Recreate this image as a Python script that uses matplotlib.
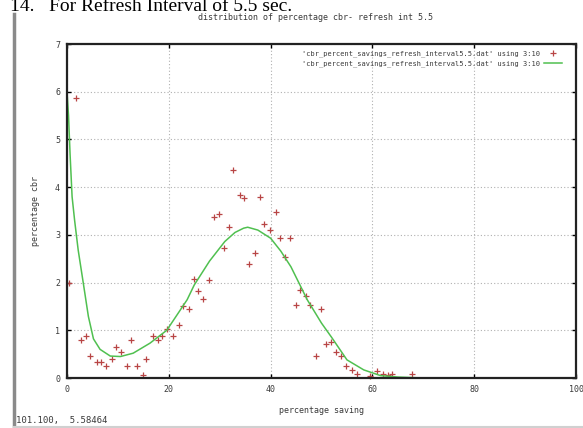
import matplotlib
matplotlib.use("Agg")
import matplotlib.pyplot as plt
from matplotlib.lines import Line2D

# ---- data ----
pts_x = [0.3, 1.7, 2.8, 3.7, 4.6, 5.8, 6.6, 7.7, 8.8, 9.6, 10.6, 11.7, 12.6, 13.7,
         14.9, 15.6, 16.8, 17.8, 18.6, 19.7, 20.8, 22.0, 22.8, 23.9, 24.9, 25.7,
         26.8, 27.9, 28.8, 29.9, 30.8, 31.8, 32.7, 33.9, 34.7, 35.8, 36.9, 37.9,
         38.8, 39.9, 41.1, 41.8, 42.8, 43.9, 44.9, 45.8, 47.0, 47.8, 48.9, 49.9,
         50.9, 51.9, 52.9, 53.9, 54.9, 55.9, 56.9, 59.6, 60.9, 62.0, 63.0, 63.9, 67.8]
pts_y = [2.0, 5.86, 0.80, 0.87, 0.47, 0.33, 0.33, 0.25, 0.39, 0.65, 0.55, 0.25, 0.80, 0.25,
         0.07, 0.39, 0.87, 0.80, 0.87, 1.03, 0.88, 1.11, 1.51, 1.44, 2.07, 1.82,
         1.66, 2.06, 3.38, 3.43, 2.72, 3.17, 4.36, 3.84, 3.77, 2.38, 2.61, 3.80,
         3.23, 3.10, 3.47, 2.94, 2.53, 2.93, 1.53, 1.84, 1.72, 1.53, 0.47, 1.44,
         0.72, 0.75, 0.55, 0.46, 0.25, 0.17, 0.08, 0.05, 0.15, 0.08, 0.07, 0.08, 0.08]

fit_x = [0, 0.3, 0.6, 1.0, 1.5, 2.2, 3.2, 4.2, 5.2, 6.5, 8.5, 10.5, 13, 16.3, 19.6,
         23.6, 25, 28, 31, 33, 34.7, 35.5, 37.5, 40, 42, 44, 47.2, 50, 52, 55,
         58.3, 61.6, 65, 70, 80, 100]
fit_y = [6.0, 5.5, 4.7, 3.8, 3.3, 2.68, 1.99, 1.29, 0.82, 0.6, 0.46, 0.45, 0.52, 0.73, 1.0,
         1.64, 1.95, 2.45, 2.86, 3.05, 3.14, 3.16, 3.1, 2.93, 2.66, 2.33, 1.64, 1.15, 0.85, 0.38,
         0.17, 0.05, 0.02, 0.0, 0.0, 0.0]

x_ticks = [0, 20, 40, 60, 80, 100]
y_ticks = [0, 1, 2, 3, 4, 5, 6, 7]
legend_labels = ["'cbr_percent_savings_refresh_interval5.5.dat' using 3:10",
                 "'cbr_percent_savings_refresh_interval5.5.dat' using 3:10"]
title = "distribution of percentage cbr- refresh int 5.5"
xlabel = "percentage saving"
ylabel = "percentage cbr"
heading = "14.   For Refresh Interval of 5.5 sec."
status = "101.100,  5.58464"

W, H = 583, 428
fig = plt.figure(figsize=(W / 100, H / 100), dpi=100)
fig.patch.set_facecolor("white")

mono = "DejaVu Sans Mono"
tc = "#3a3a3a"

ax = fig.add_axes([67 / W, (H - 378) / H, 509 / W, 334 / H])
ax.set_xlim(0, 100)
ax.set_ylim(0, 7)
ax.set_xticks(x_ticks)
ax.set_yticks(y_ticks)
ax.grid(True, color="#b0b0b0", linestyle=(0, (1, 2)), linewidth=0.8)
ax.tick_params(direction="in", top=True, right=True, length=3, width=1,
               labelsize=6, labelcolor=tc, pad=5)
for lab in ax.get_xticklabels() + ax.get_yticklabels():
    lab.set_family(mono)
for s in ax.spines.values():
    s.set_linewidth(1.6)
    s.set_color("#222222")

ax.plot(pts_x, pts_y, linestyle="none", marker="+", markersize=4.5,
        markeredgewidth=0.9, color="#b84545", label=legend_labels[0], clip_on=False)
ax.plot(fit_x, fit_y, color="#50c050", linewidth=1.1, label=legend_labels[1])

leg = ax.legend(loc="upper right", frameon=False, markerfirst=False,
                prop={"family": mono, "size": 5.0}, handlelength=2.6,
                labelspacing=0.45, borderaxespad=0.4, handletextpad=0.6,
                bbox_to_anchor=(1 - 8 / 509, 1 - 1 / 334))
for t in leg.get_texts():
    t.set_color(tc)

ax.set_xlabel(xlabel, family=mono, fontsize=6, color=tc, labelpad=9)
ax.set_ylabel(ylabel, family=mono, fontsize=6, color=tc, labelpad=11)

fig.text(316 / W, 1 - 18 / H, title, family=mono, fontsize=6, color=tc,
         ha="center", va="center")

# document heading, cut at the top
fig.text(10 / W, 1 - 11 / H, heading, family="Liberation Serif", fontsize=14,
         color="black", ha="left", va="baseline")

# window border on the left and bottom status line
fig.add_artist(Line2D([13.5 / W, 13.5 / W], [0, 1 - 14 / H], transform=fig.transFigure,
                      color="#8a8a8a", linewidth=2.5))
fig.add_artist(Line2D([13.5 / W, 1], [1 / H, 1 / H], transform=fig.transFigure,
                      color="#d0d0d0", linewidth=1.5))
fig.text(16 / W, 1 - 420 / H, status, family=mono, fontsize=6.5, color=tc,
         ha="left", va="center")

fig.savefig("out.png", dpi=100, facecolor="white")
